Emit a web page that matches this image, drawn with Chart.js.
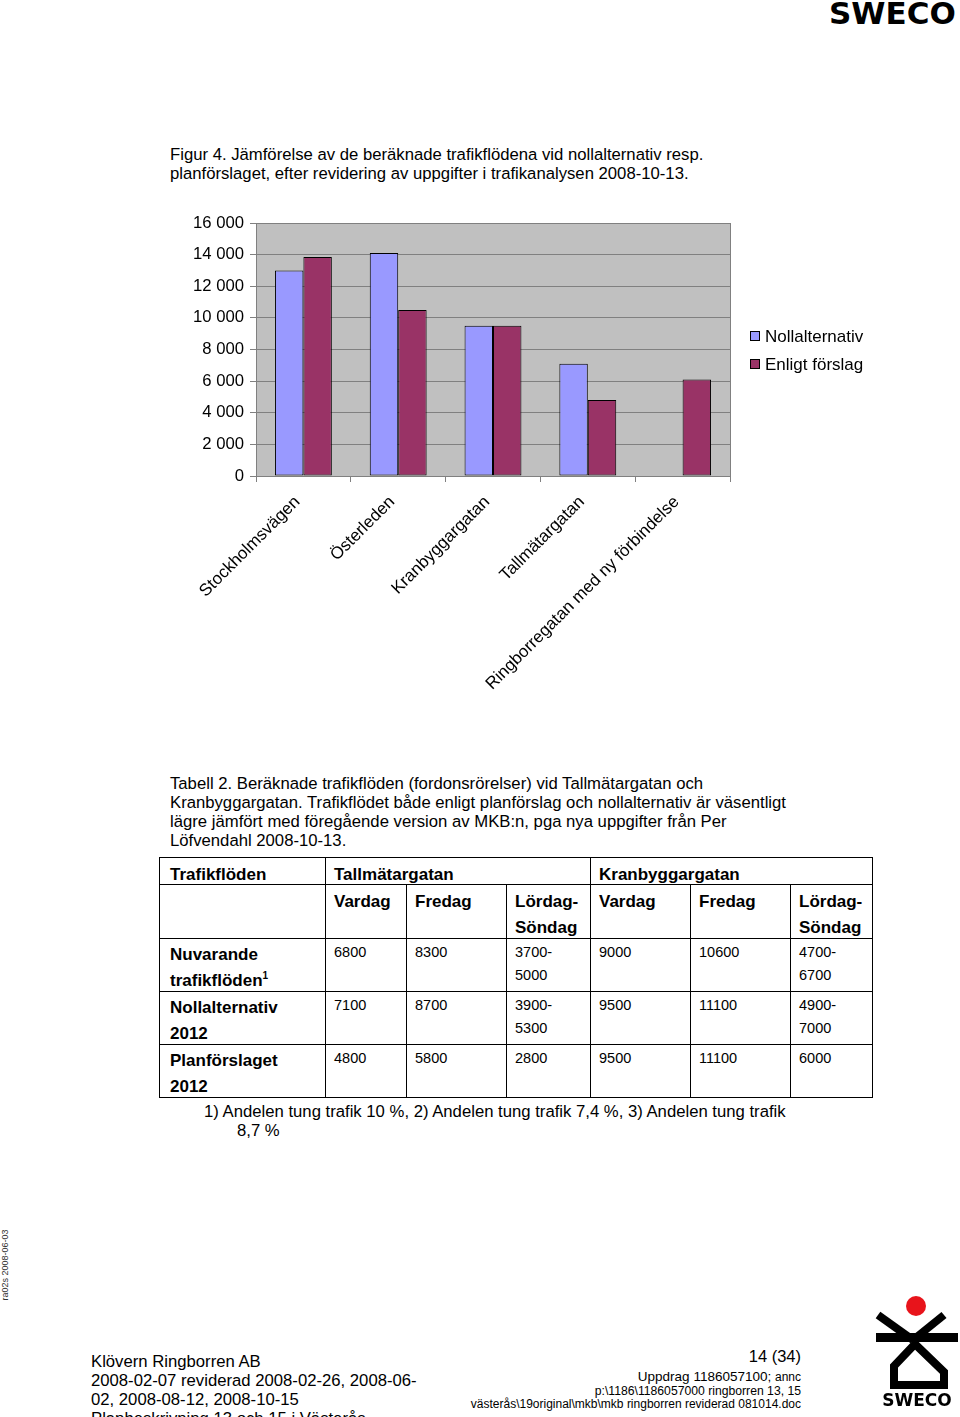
<!DOCTYPE html>
<html lang="sv">
<head>
<meta charset="utf-8">
<title>Figur 4</title>
<script src="https://cdn.jsdelivr.net/npm/chart.js@4.4.1/dist/chart.umd.min.js"></script>
<style>
  body { margin: 0; width: 960px; height: 1417px; position: relative; overflow: hidden; background: #fff;
         font-family: "Liberation Sans", Arial, sans-serif; color: #000; }
  .t { position: absolute; white-space: nowrap; font-size: 16.7px; line-height: 19px; }
  .logo-top { position: absolute; left: 829px; top: -5px; font-family: "DejaVu Sans", sans-serif;
              font-weight: bold; font-size: 31px; }
  .side { position: absolute; left: -35px; top: 1260px; width: 80px; font-size: 9px; transform: rotate(-90deg);
          text-align: center; white-space: nowrap; color: #333; }
  #chartBox { position: absolute; left: 180px; top: 205px; width: 700px; height: 500px; }
  table.flow { position: absolute; left: 159px; top: 857px; border-collapse: collapse; table-layout: fixed; }
  table.flow td { border: 1px solid #000; vertical-align: top; padding: 0; }
  table.flow td > div { box-sizing: border-box; padding-left: 8px; overflow: visible; white-space: nowrap; }
  table.flow td.first > div { padding-left: 10px; }
  table.flow td.h > div { font-weight: bold; font-size: 17px; line-height: 26px; }
  table.flow td.n > div { font-size: 14.5px; line-height: 23px; padding-top: 2px; }
  table.flow sup { font-size: 10px; line-height: 0; }
  tr.r1 td > div { height: 26px; padding-top: 4px; }
  tr.r2 td > div { height: 53px; padding-top: 4px; }
  tr.r3 td > div { height: 52px; }
  tr.r3 td.h > div { padding-top: 3px; }
  .r { position: absolute; white-space: nowrap; text-align: right; right: 159px; }
</style>
</head>
<body>
<div class="logo-top">SWECO</div>

<div class="t" style="left:170px;top:145px;">Figur 4. Jämförelse av de beräknade trafikflödena vid nollalternativ resp.<br>planförslaget, efter revidering av uppgifter i trafikanalysen 2008-10-13.</div>

<div id="chartBox"><canvas id="chart" width="700" height="500"></canvas></div>

<div class="t" style="left:170px;top:774px;">Tabell 2. Beräknade trafikflöden (fordonsrörelser) vid Tallmätargatan och<br>Kranbyggargatan. Trafikflödet både enligt planförslag och nollalternativ är väsentligt<br>lägre jämfört med föregående version av MKB:n, pga nya uppgifter från Per<br>Löfvendahl 2008-10-13.</div>

<table class="flow">
  <colgroup>
    <col style="width:166px"><col style="width:81px"><col style="width:100px"><col style="width:84px">
    <col style="width:100px"><col style="width:100px"><col style="width:82px">
  </colgroup>
  <tr class="r1">
    <td class="h first"><div>Trafikflöden</div></td>
    <td class="h" colspan="3"><div>Tallmätargatan</div></td>
    <td class="h" colspan="3"><div>Kranbyggargatan</div></td>
  </tr>
  <tr class="r2">
    <td class="h first"><div></div></td>
    <td class="h"><div>Vardag</div></td><td class="h"><div>Fredag</div></td><td class="h"><div>Lördag-<br>Söndag</div></td>
    <td class="h"><div>Vardag</div></td><td class="h"><div>Fredag</div></td><td class="h"><div>Lördag-<br>Söndag</div></td>
  </tr>
  <tr class="r3">
    <td class="h first"><div>Nuvarande<br>trafikflöden<sup>1</sup></div></td>
    <td class="n"><div>6800</div></td><td class="n"><div>8300</div></td><td class="n"><div>3700-<br>5000</div></td>
    <td class="n"><div>9000</div></td><td class="n"><div>10600</div></td><td class="n"><div>4700-<br>6700</div></td>
  </tr>
  <tr class="r3">
    <td class="h first"><div>Nollalternativ<br>2012</div></td>
    <td class="n"><div>7100</div></td><td class="n"><div>8700</div></td><td class="n"><div>3900-<br>5300</div></td>
    <td class="n"><div>9500</div></td><td class="n"><div>11100</div></td><td class="n"><div>4900-<br>7000</div></td>
  </tr>
  <tr class="r3">
    <td class="h first"><div>Planförslaget<br>2012</div></td>
    <td class="n"><div>4800</div></td><td class="n"><div>5800</div></td><td class="n"><div>2800</div></td>
    <td class="n"><div>9500</div></td><td class="n"><div>11100</div></td><td class="n"><div>6000</div></td>
  </tr>
</table>

<div class="t" style="left:204px;top:1102px;">1) Andelen tung trafik 10 %, 2) Andelen tung trafik 7,4 %, 3) Andelen tung trafik</div>
<div class="t" style="left:237px;top:1121px;">8,7 %</div>

<div class="side">ra02s 2008-06-03</div>

<div class="t" style="left:91px;top:1352px;">Klövern Ringborren AB<br>2008-02-07 reviderad 2008-02-26, 2008-06-<br>02, 2008-08-12, 2008-10-15<br>Planbeskrivning 13 och 15 i Västerås</div>

<div class="r" style="top:1347px;font-size:16.5px;line-height:19px;">14 (34)</div>
<div class="r" style="top:1370px;font-size:13.5px;line-height:14px;">Uppdrag 1186057100; <span style="font-size:12px">annc</span></div>
<div class="r" style="top:1384px;font-size:12.2px;line-height:14px;">p:\1186\1186057000 ringborren 13, 15</div>
<div class="r" style="top:1397px;font-size:12px;line-height:14px;">västerås\19original\mkb\mkb ringborren reviderad 081014.doc</div>

<svg style="position:absolute;left:0;top:0" width="960" height="1417">
  <circle cx="916" cy="1306" r="10" fill="#e8141b"/>
  <g stroke="#000" stroke-width="8" fill="none" stroke-linejoin="miter">
    <line x1="878" y1="1315" x2="913" y2="1340"/>
    <line x1="944" y1="1315" x2="913" y2="1340"/>
    <path d="M894,1385 L894,1366 L915,1344 L944,1372 L944,1385 Z"/>
  </g>
  <rect x="876" y="1333" width="82" height="9" fill="#000"/>
  <text x="917" y="1406" text-anchor="middle" font-family="DejaVu Sans" font-weight="bold" font-size="17">SWECO</text>
</svg>

<script>
const categories = ['Stockholmsvägen', 'Österleden', 'Kranbyggargatan', 'Tallmätargatan', 'Ringborregatan med ny förbindelse'];
const nollalternativ = [13000, 14100, 9500, 7100, null];
const enligtForslag = [13850, 10500, 9500, 4800, 6100];
const seriesNames = ['Nollalternativ', 'Enligt förslag'];
const seriesColors = ['#9999FF', '#993366'];
const yMax = 16000;
const yStep = 2000;

const FONT = '"Liberation Sans", Arial, sans-serif';

function spaceThousands(v) {
  return String(v).replace(/\B(?=(\d{3})+(?!\d))/g, ' ');
}

// grå bakgrund + ram runt plottytan
const plotBg = {
  id: 'plotBg',
  beforeDraw(chart) {
    const { ctx, chartArea: a } = chart;
    ctx.save();
    ctx.fillStyle = '#C0C0C0';
    ctx.fillRect(a.left, a.top, a.right - a.left, a.bottom - a.top);
    ctx.restore();
  },
  afterDraw(chart) {
    const { ctx, chartArea: a } = chart;
    ctx.save();
    ctx.strokeStyle = '#808080';
    ctx.lineWidth = 1;
    ctx.strokeRect(a.left + 0.5, a.top + 0.5, a.right - a.left, a.bottom - a.top);
    ctx.restore();
  }
};

// förklaring till höger
const sideLegend = {
  id: 'sideLegend',
  afterDraw(chart) {
    const { ctx, chartArea: a } = chart;
    const x = a.right + 20;
    const rows = [131, 159];
    ctx.save();
    ctx.font = '17px ' + FONT;
    ctx.textBaseline = 'middle';
    chart.data.datasets.forEach((ds, i) => {
      const y = rows[i];
      ctx.fillStyle = ds.backgroundColor;
      ctx.fillRect(x, y - 5, 10, 10);
      ctx.strokeStyle = '#000';
      ctx.lineWidth = 1;
      ctx.strokeRect(x + 0.5, y - 4.5, 9, 9);
      ctx.fillStyle = '#000';
      ctx.fillText(ds.label, x + 15, y + 1);
    });
    ctx.restore();
  }
};

new Chart(document.getElementById('chart'), {
  type: 'bar',
  data: {
    labels: categories,
    datasets: [
      { label: seriesNames[0], data: nollalternativ, backgroundColor: seriesColors[0] },
      { label: seriesNames[1], data: enligtForslag, backgroundColor: seriesColors[1] }
    ].map(ds => Object.assign(ds, {
      borderColor: '#000',
      borderWidth: 1,
      borderSkipped: false,
      barPercentage: 1.0,
      categoryPercentage: 0.6
    }))
  },
  options: {
    responsive: false,
    animation: false,
    layout: { padding: { top: 18, right: 150, left: 0, bottom: 0 } },
    plugins: {
      legend: { display: false },
      tooltip: { enabled: false }
    },
    scales: {
      x: {
        offset: true,
        grid: { offset: true, drawOnChartArea: false, drawTicks: true, tickLength: 6, color: '#808080' },
        border: { color: '#808080' },
        ticks: {
          autoSkip: false, minRotation: 45, maxRotation: 45, padding: 10, labelOffset: -6,
          color: '#000', font: { family: FONT, size: 17 }
        },
        afterFit(s) { s.height = 229; }
      },
      y: {
        min: 0, max: yMax,
        grid: { color: '#808080', tickLength: 6 },
        border: { color: '#808080' },
        ticks: {
          stepSize: yStep, padding: 6, color: '#000',
          font: { family: FONT, size: 16.7 },
          callback: v => spaceThousands(v)
        },
        afterFit(s) { s.width = 76; }
      }
    }
  },
  plugins: [plotBg, sideLegend]
});
</script>
</body>
</html>
